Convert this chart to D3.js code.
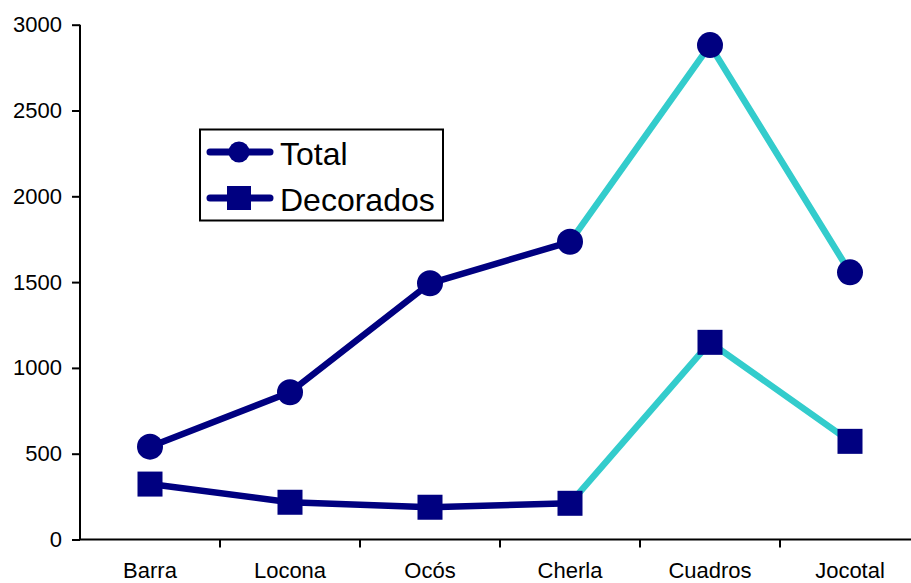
<!DOCTYPE html>
<html>
<head>
<meta charset="utf-8">
<script src="https://cdn.jsdelivr.net/npm/d3@7"></script>
<style>
  html, body { margin: 0; padding: 0; background: #fff; }
  svg { display: block; }
  text { font-family: Arial, "Liberation Sans", sans-serif; fill: #000; }
</style>
</head>
<body>
<svg id="chart" width="911" height="583"></svg>
<script>
// Sites along the sequence
const categories = ["Barra", "Locona", "Ocós", "Cherla", "Cuadros", "Jocotal"];
// Sherd counts per site
const totalValues = [541, 858, 1493, 1735, 2881, 1557];
const decoradosValues = [323, 217, 188, 211, 1149, 572];
// Line colour of the segment that ends at each site (first entry unused)
const segmentColors = ["#000080", "#000080", "#000080", "#000080", "#33CCCC", "#33CCCC"];
const yTicks = [0, 500, 1000, 1500, 2000, 2500, 3000];
const seriesNames = ["Total", "Decorados"];

const navy = "#000080";
const fontFamily = "Arial, 'Liberation Sans', sans-serif";
const svg = d3.select("#chart");

const x = d3.scaleBand().domain(categories).range([80, 920]).paddingInner(0).paddingOuter(0);
const y = d3.scaleLinear().domain([0, 3000]).range([539.5, 24.7]);
const cx = c => x(c) + x.bandwidth() / 2;

// Y axis
const yAxis = svg.append("g")
  .attr("transform", "translate(80,0)")
  .call(d3.axisLeft(y).tickValues(yTicks).tickSize(8).tickPadding(10).tickFormat(d3.format("d")));
yAxis.select(".domain").attr("stroke", "#000").attr("stroke-width", 2).attr("d", `M0,${y(3000)}V${y(0)}`);
yAxis.selectAll(".tick line").attr("stroke", "#000").attr("stroke-width", 2);
yAxis.selectAll(".tick text").attr("font-size", 22).attr("font-family", fontFamily);

// X axis: labels centred in each band, tick marks at band edges
const xAxis = svg.append("g")
  .attr("transform", `translate(0,${y(0)})`)
  .call(d3.axisBottom(x).tickSize(0).tickPadding(23));
xAxis.select(".domain").attr("stroke", "#000").attr("stroke-width", 2).attr("d", `M80,0H920`);
xAxis.selectAll(".tick text").attr("font-size", 22).attr("font-family", fontFamily);
svg.append("g").selectAll("line")
  .data(categories.slice(1).concat(["end"]))
  .join("line")
  .attr("x1", (d, i) => 80 + x.step() * (i + 1))
  .attr("x2", (d, i) => 80 + x.step() * (i + 1))
  .attr("y1", y(0)).attr("y2", y(0) + 8)
  .attr("stroke", "#000").attr("stroke-width", 2);

// Lines, drawn segment by segment so each can take its own colour
function drawSeries(values, markerFn) {
  const g = svg.append("g");
  const segs = values.slice(1).map((v, i) => ({
    x1: cx(categories[i]), y1: y(values[i]),
    x2: cx(categories[i + 1]), y2: y(v),
    color: segmentColors[i + 1]
  }));
  g.selectAll("line").data(segs).join("line")
    .attr("x1", d => d.x1).attr("y1", d => d.y1)
    .attr("x2", d => d.x2).attr("y2", d => d.y2)
    .attr("stroke", d => d.color).attr("stroke-width", 6.5).attr("stroke-linecap", "round");
  markerFn(g, values);
}

const circles = (g, values) => g.selectAll("circle").data(values).join("circle")
  .attr("cx", (d, i) => cx(categories[i])).attr("cy", d => y(d)).attr("r", 13).attr("fill", navy);
const squares = (g, values) => g.selectAll("rect").data(values).join("rect")
  .attr("x", (d, i) => cx(categories[i]) - 12.5).attr("y", d => y(d) - 12.5)
  .attr("width", 25).attr("height", 25).attr("fill", navy);

drawSeries(decoradosValues, squares);
drawSeries(totalValues, circles);

// Legend
const legend = svg.append("g");
legend.append("rect").attr("x", 200).attr("y", 129.5).attr("width", 243).attr("height", 91)
  .attr("fill", "#fff").attr("stroke", "#000").attr("stroke-width", 2);
const rows = [152, 198];
seriesNames.forEach((name, i) => {
  const ry = rows[i];
  legend.append("line").attr("x1", 210).attr("x2", 270).attr("y1", ry).attr("y2", ry)
    .attr("stroke", navy).attr("stroke-width", 7).attr("stroke-linecap", "round");
  if (i === 0) {
    legend.append("circle").attr("cx", 239).attr("cy", ry).attr("r", 10.5).attr("fill", navy);
  } else {
    legend.append("rect").attr("x", 227).attr("y", ry - 12).attr("width", 24).attr("height", 24).attr("fill", navy);
  }
  legend.append("text").attr("x", 280).attr("y", ry + 12.5).attr("font-size", 32).text(name);
});
</script>
</body>
</html>
